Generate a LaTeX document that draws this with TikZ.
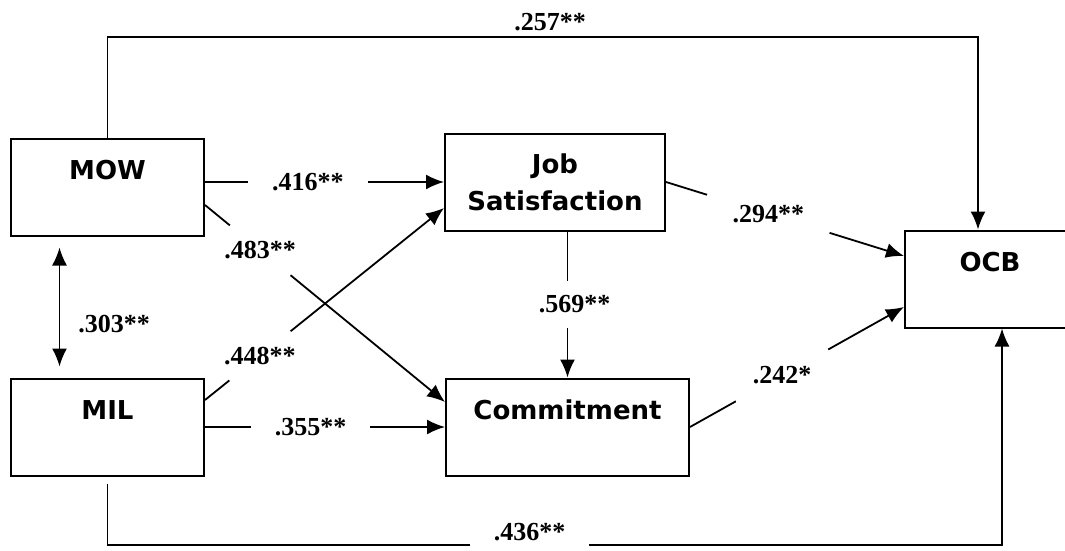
\documentclass[tikz,border=0pt]{standalone}
\usepackage{fontspec}
\setmainfont{Liberation Serif}
\newfontfamily\boxfont{DejaVu Sans}
\usetikzlibrary{positioning,arrows.meta}

\tikzset{
  box/.style={rectangle,draw,line width=2pt,minimum height=97pt,inner sep=2pt,align=center,
    font=\boxfont\bfseries\fontsize{26}{37}\selectfont},
  raised/.style={text height=20pt,text depth=35pt},
  coef/.style={font=\bfseries\fontsize{26}{30}\selectfont,inner sep=1pt},
  gap/.style={coef,fill=white,inner xsep=24pt,inner ysep=4pt},
  cgap/.style={coef,fill=white,circle,inner sep=2pt},
  link/.style={line width=1.8pt},
}

\begin{document}
\begin{tikzpicture}[x=1pt,y=-1pt,>={Latex[length=18pt,width=15pt]}]
  \useasboundingbox (0,0) rectangle (1065,551);
  \clip (0,0) rectangle (1065,551);
  \node(mow)[box,raised,minimum width=193pt] at (107.5,187) {MOW};
  \node(mil)[box,raised,minimum width=193pt,below=141pt of mow] {MIL};
  \node(js)[box,minimum width=220pt] at (555,182) {Job\\Satisfaction};
  \node(com)[box,raised,minimum width=243pt,right=240pt of mil] {Commitment};
  \node(ocb)[box,raised,minimum width=170pt] at (990,279) {OCB};
  \coordinate(toprail) at (0,37);
  \coordinate(botrail) at (0,545);
\draw[link,<->]([xshift=-48pt,yshift=-11pt]mow.south) -- node[coef,pos=.64,right=17pt]{.303**} ([xshift=-48pt,yshift=11pt]mil.north);
\draw[link,->](mow.east |- js.west) -- node[gap,pos=.43]{.416**} (js.west);
\draw[link,->](mil.east) -- node[gap,pos=.44]{.355**} (com.west);
\draw[link,->]([yshift=-18pt]mow.east) -- node[cgap,pos=.23]{.483**} ([yshift=25pt]com.west);
\draw[link,->]([yshift=27pt]mil.east) -- node[cgap,pos=.23]{.448**} ([yshift=-26pt]js.west);
\draw[link,->](js.south -| com.north) -- node[gap,inner ysep=15pt,xshift=7pt]{.569**} (com.north);
\draw[link,->](js.east) -- node[cgap,inner sep=21pt,pos=.43]{.294**} ([yshift=23pt]ocb.west);
\draw[link,->](com.east) -- node[cgap,inner sep=17pt,pos=.43]{.242*} ([yshift=-28pt]ocb.west);
\draw[link,->](mow.north) -- (mow.north |- toprail) -| ([xshift=-12pt]ocb.north);
\node(lbltop)[coef] at (550,22) {.257**};
\draw[link,->]([yshift=-7pt]mil.south) -- (mil.south |- botrail) -| node[gap,pos=.236,yshift=13pt,inner ysep=8pt]{.436**} ([xshift=12pt]ocb.south);
\end{tikzpicture}
\end{document}
